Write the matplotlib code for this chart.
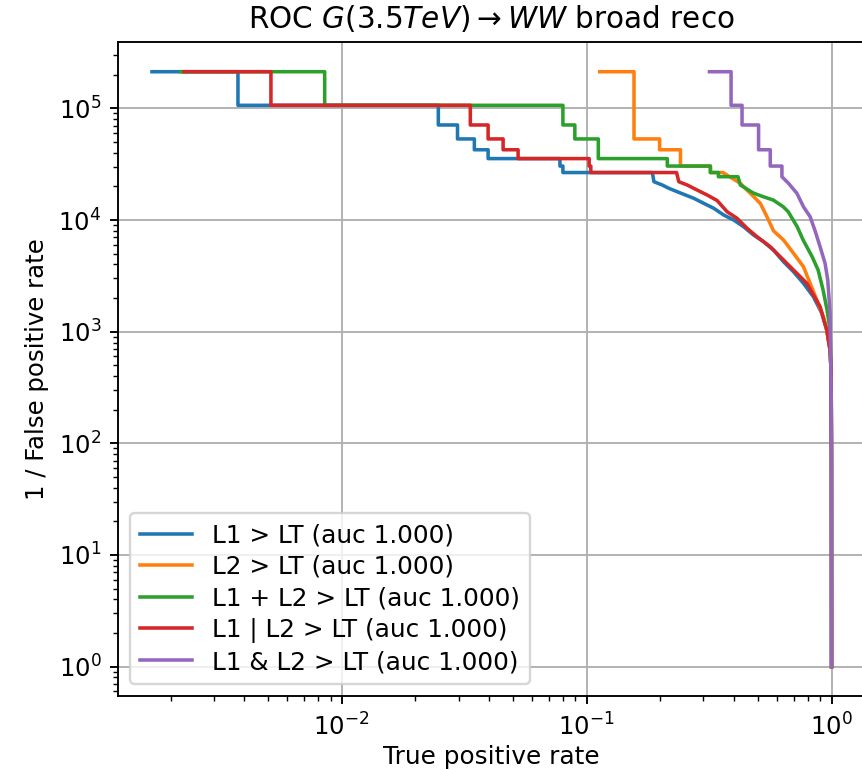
import matplotlib
matplotlib.use("Agg")
import matplotlib.pyplot as plt

# ROC data: true positive rate and 1 / false positive rate (corner points of each curve)
labels = ["L1 > LT (auc 1.000)", "L2 > LT (auc 1.000)", "L1 + L2 > LT (auc 1.000)",
          "L1 | L2 > LT (auc 1.000)", "L1 & L2 > LT (auc 1.000)"]

tail_tpr = [0.993, 0.997, 0.999, 1.0]
tail_inv = [500, 250, 80, 1.0]

tpr_l1 = [0.00168, 0.00377, 0.00377, 0.0248, 0.0248, 0.0297, 0.0297, 0.0348, 0.0348,
          0.0396, 0.0396, 0.0778, 0.0778, 0.0800, 0.0800, 0.1854, 0.1883,
          0.2036, 0.2167, 0.2344, 0.2533, 0.2739, 0.3007, 0.3304, 0.3628,
          0.3986, 0.4375, 0.4805, 0.5278, 0.5796, 0.6365, 0.6993, 0.7677, 0.8432,
          0.9123, 0.9561, 0.9860] + tail_tpr
inv_l1 = [213000, 213000, 106500, 106500, 71000, 71000, 53250, 53250, 42600,
          42600, 35500, 35500, 30430, 30430, 26625, 26625, 22030,
          20590, 19230, 17930, 16750, 15650, 14110, 12740, 11090,
          10000, 8710, 7340, 6390, 5366, 4233, 3444, 2712, 2056,
          1462, 1035, 685] + tail_inv

tpr_l2 = [0.1132, 0.1561, 0.1561, 0.1986, 0.1986, 0.2416, 0.2416, 0.3201, 0.3201,
          0.3600, 0.4242, 0.4659, 0.5117, 0.5447, 0.5796, 0.6365, 0.6993, 0.7677,
          0.8175, 0.8707, 0.9260, 0.9561, 0.9860] + tail_tpr
inv_l2 = [213000, 213000, 53250, 53250, 42600, 42600, 30430, 30430, 26625,
          26625, 21320, 17350, 14110, 10710, 7990, 6624, 5035, 3819,
          2713, 1923, 1362, 1035, 685] + tail_inv

tpr_sum = [0.0022, 0.00852, 0.00852, 0.0800, 0.0800, 0.0895, 0.0895, 0.1116, 0.1116,
           0.2135, 0.2135, 0.3201, 0.3201, 0.3451, 0.3451, 0.4150, 0.4242,
           0.4791, 0.5263, 0.5778, 0.6346, 0.6652, 0.7239, 0.7656, 0.8331, 0.8813,
           0.9234, 0.9588, 0.9860] + tail_tpr
inv_sum = [213000, 213000, 106500, 106500, 71000, 71000, 53250, 53250, 35500,
           35500, 30430, 30430, 26625, 26625, 24430, 24430, 20590,
           17460, 16170, 15110, 13160, 11870, 8713, 6624, 4693, 3567,
           2362, 1563, 1035] + tail_inv

tpr_or = [0.00227, 0.00514, 0.00514, 0.0335, 0.0335, 0.0396, 0.0396, 0.0456, 0.0456,
          0.0525, 0.0525, 0.1024, 0.1024, 0.1040, 0.1040, 0.2329, 0.2379,
          0.2574, 0.2827, 0.3105, 0.3410, 0.3745, 0.4113, 0.4517, 0.4961,
          0.5620, 0.6172, 0.6993, 0.7926, 0.8979, 0.9561, 0.9860] + tail_tpr
inv_or = [213000, 213000, 106500, 106500, 71000, 71000, 53250, 53250, 42600,
          42600, 35500, 35500, 30430, 30430, 26625, 26625, 22030,
          20590, 18560, 16750, 14950, 11870, 10360, 8433, 7089,
          5768, 4693, 3567, 2713, 1674, 1035, 685] + tail_inv

tpr_and = [0.3173, 0.3888, 0.3888, 0.4310, 0.4310, 0.5036, 0.5036, 0.5620, 0.5620,
           0.6271, 0.6271, 0.6671, 0.7220, 0.7677, 0.8175, 0.8567, 0.8979, 0.9408,
           0.9650, 0.9860] + tail_tpr
inv_and = [213000, 213000, 106500, 106500, 71000, 71000, 42600, 42600, 30430,
           30430, 24430, 21320, 17350, 13160, 10710, 7990, 5768, 4096,
           2903, 1461] + tail_inv

series = [(tpr_l1, inv_l1), (tpr_l2, inv_l2), (tpr_sum, inv_sum),
          (tpr_or, inv_or), (tpr_and, inv_and)]

fig = plt.figure(figsize=(862 / 170, 770 / 170), dpi=170)
ax = fig.add_axes([0.1369, 0.0956, 0.8672, 0.8499])

for (x, y), lab in zip(series, labels):
    ax.plot(x, y, label=lab)

ax.set_xscale("log")
ax.set_yscale("log")
ax.grid(True)
ax.tick_params(labelsize=10.3)
ax.set_xlabel("True positive rate", fontsize=10.5, labelpad=2)
ax.set_ylabel("1 / False positive rate", fontsize=10.3)
ax.set_title(r"ROC $G(3.5TeV)\to WW$ broad reco", fontsize=12.5)
ax.legend(loc="lower left", fontsize=10.5, labelspacing=0.3,
          handlelength=2.1, handletextpad=0.8)

fig.savefig("out.png", dpi=170)
